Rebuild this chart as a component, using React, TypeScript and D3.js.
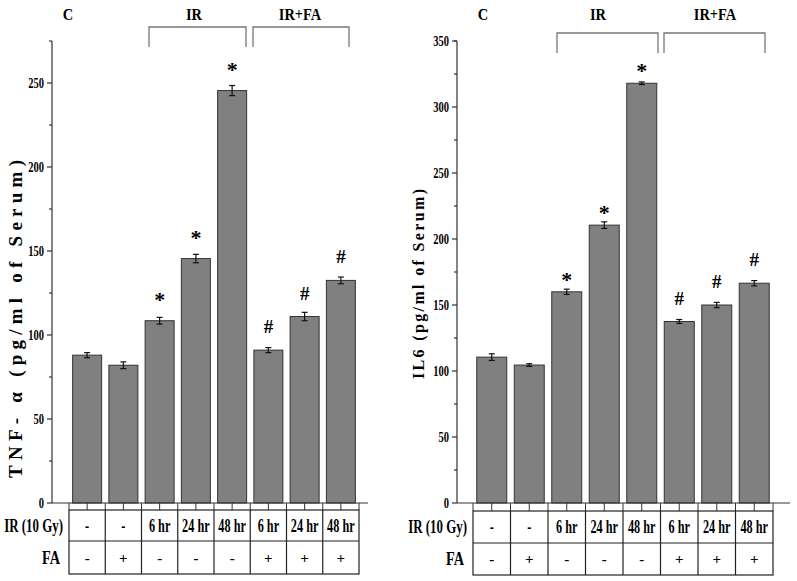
import React from "react";
import * as d3 from "d3";

const groups = ["C1", "C2", "IR6", "IR24", "IR48", "FA6", "FA24", "FA48"];
const irRow = ["-", "-", "6 hr", "24 hr", "48 hr", "6 hr", "24 hr", "48 hr"];
const faRow = ["-", "+", "-", "-", "-", "+", "+", "+"];
const tnfValues = [88, 82, 108.5, 145.5, 245.5, 91, 111, 132.5];
const tnfErrors = [1.5, 2, 2, 2.5, 3, 1.5, 2.5, 2];
const tnfMarks = ["", "", "*", "*", "*", "#", "#", "#"];
const il6Values = [110.5, 104.5, 160, 210.5, 318, 137.5, 150, 166.5];
const il6Errors = [2.5, 1, 2, 2.5, 1, 1.5, 2, 2];
const il6Marks = ["", "", "*", "*", "*", "#", "#", "#"];
const tnfTicks = [0, 50, 100, 150, 200, 250];
const il6Ticks = [0, 50, 100, 150, 200, 250, 300, 350];

type PanelProps = {
  values: number[];
  errors: number[];
  marks: string[];
  ticks: number[];
  yMax: number;
  axisTop: number;
  axisX: number;
  axisEnd: number;
  bandStart: number;
  bandEnd: number;
  tableTop: number;
  tableMid: number;
  tableBottom: number;
  yLabel: string;
  labelX: number;
  labelY: number;
  labelLen: number;
  labelSize: number;
  cX: number;
  irX: number;
  faX: number;
  br1: [number, number];
  br2: [number, number];
  brTop: number;
  brBottom: number;
  starGap: number;
  hashGap: number;
};

const serif = "Liberation Serif, Times New Roman, serif";

function CText(props: { x: number; y: number; size: number; sx: number; anchor: string; children: React.ReactNode }) {
  return (
    <text
      transform={`translate(${props.x},${props.y}) scale(${props.sx},1)`}
      textAnchor={props.anchor}
      fontFamily={serif}
      fontWeight="bold"
      fontSize={props.size}
    >
      {props.children}
    </text>
  );
}

function Panel(p: PanelProps) {
  const zeroY = 503;
  const y = d3.scaleLinear().domain([0, p.yMax]).range([zeroY, p.axisTop]);
  const x = d3.scaleBand<string>().domain(groups).range([p.bandStart, p.bandEnd]).paddingInner(0.2).paddingOuter(0.1);
  const xb = d3.scaleBand<string>().domain(groups).range([p.bandStart, p.bandEnd]);
  const minor = d3.range(25, p.yMax, 50);
  const rowLabelX = xb(groups[0])! - 6;
  const r1 = (p.tableTop + p.tableMid) / 2;
  const r2 = (p.tableMid + p.tableBottom) / 2;
  return (
    <g>
      <CText x={p.cX} y={20} size={17} sx={0.85} anchor="middle">C</CText>
      <CText x={p.irX} y={20} size={17} sx={0.85} anchor="middle">IR</CText>
      <CText x={p.faX} y={20} size={17} sx={0.85} anchor="middle">IR+FA</CText>
      {[p.br1, p.br2].map((b, i) => (
        <path key={i} d={`M${b[0]},${p.brBottom}V${p.brTop}H${b[1]}V${p.brBottom}`} fill="none" stroke="#777" strokeWidth={1.3} />
      ))}
      <line x1={p.axisX} x2={p.axisX} y1={p.axisTop} y2={zeroY} stroke="#333" strokeWidth={1.2} />
      {p.ticks.map((t) => (
        <g key={t}>
          <line x1={p.axisX - 5} x2={p.axisX} y1={y(t)} y2={y(t)} stroke="#333" strokeWidth={1.2} />
          <CText x={p.axisX - 8} y={y(t) + 5} size={15} sx={0.7} anchor="end">{t}</CText>
        </g>
      ))}
      {minor.map((t) => (
        <line key={t} x1={p.axisX - 3} x2={p.axisX} y1={y(t)} y2={y(t)} stroke="#333" strokeWidth={1.2} />
      ))}
      <line x1={p.axisX - 3} x2={p.axisX} y1={p.axisTop} y2={p.axisTop} stroke="#333" strokeWidth={1.2} />
      <text transform={`translate(${p.labelX},${p.labelY}) rotate(-90)`} textAnchor="middle" fontFamily={serif} fontWeight="bold" fontSize={p.labelSize} textLength={p.labelLen} lengthAdjust="spacing">{p.yLabel}</text>
      {groups.map((g, i) => {
        const bx = x(g)!;
        const cx = bx + x.bandwidth() / 2;
        const top = y(p.values[i]);
        const hi = y(p.values[i] + p.errors[i]);
        const lo = y(p.values[i] - p.errors[i]);
        const m = p.marks[i];
        return (
          <g key={g}>
            <rect x={bx} y={top} width={x.bandwidth()} height={zeroY - top} fill="#808080" stroke="#333" strokeWidth={1} />
            <line x1={cx} x2={cx} y1={hi} y2={lo} stroke="#111" strokeWidth={1.2} />
            <line x1={cx - 3} x2={cx + 3} y1={hi} y2={hi} stroke="#111" strokeWidth={1.2} />
            <line x1={cx - 3} x2={cx + 3} y1={lo} y2={lo} stroke="#111" strokeWidth={1.2} />
            {m === "*" && (
              <text x={cx} y={top - p.starGap + 12} textAnchor="middle" fontFamily={serif} fontWeight="bold" fontSize={22}>*</text>
            )}
            {m === "#" && (
              <text x={cx} y={top - p.hashGap} textAnchor="middle" fontFamily={serif} fontWeight="bold" fontSize={19}>#</text>
            )}
          </g>
        );
      })}
      <line x1={p.axisX} x2={p.axisEnd} y1={zeroY} y2={zeroY} stroke="#333" strokeWidth={1.2} />
      {groups.map((g) => (
        <g key={g}>
          <line x1={xb(g)!} x2={xb(g)!} y1={zeroY} y2={p.tableTop} stroke="#333" strokeWidth={1} />
          <line x1={xb(g)! + xb.bandwidth() / 2} x2={xb(g)! + xb.bandwidth() / 2} y1={zeroY} y2={p.tableTop} stroke="#333" strokeWidth={1} />
        </g>
      ))}
      <line x1={p.bandEnd} x2={p.bandEnd} y1={zeroY} y2={p.tableTop} stroke="#333" strokeWidth={1} />
      <rect x={p.bandStart} y={p.tableTop} width={p.bandEnd - p.bandStart} height={p.tableBottom - p.tableTop} fill="none" stroke="#222" strokeWidth={1.2} />
      <line x1={p.bandStart} x2={p.bandEnd} y1={p.tableMid} y2={p.tableMid} stroke="#222" strokeWidth={1.2} />
      {groups.slice(1).map((g) => (
        <line key={g} x1={xb(g)!} x2={xb(g)!} y1={p.tableTop} y2={p.tableBottom} stroke="#222" strokeWidth={1.2} />
      ))}
      <CText x={rowLabelX} y={r1 + 6} size={19} sx={0.68} anchor="end">IR (10 Gy)</CText>
      <CText x={rowLabelX - 3} y={r2 + 6} size={19} sx={0.75} anchor="end">FA</CText>
      {groups.map((g, i) => {
        const cx = xb(g)! + xb.bandwidth() / 2;
        return (
          <g key={g}>
            <CText x={cx} y={r1 + 6} size={18} sx={0.68} anchor="middle">{irRow[i]}</CText>
            <CText x={cx} y={r2 + 5} size={15} sx={1} anchor="middle">{faRow[i]}</CText>
          </g>
        );
      })}
    </g>
  );
}

export default function App() {
  return (
    <svg width={797} height={581} style={{ position: "absolute", left: 0, top: 0, background: "#fff" }}>
      <rect width={797} height={581} fill="#fff" />
      <Panel
        values={tnfValues}
        errors={tnfErrors}
        marks={tnfMarks}
        ticks={tnfTicks}
        yMax={275}
        axisTop={41}
        axisX={52}
        axisEnd={368}
        bandStart={69}
        bandEnd={359}
        tableTop={510}
        tableMid={541}
        tableBottom={574}
        yLabel="TNF- α (pg/ml of Serum)"
        labelX={22}
        labelY={319}
        labelLen={318}
        labelSize={19}
        cX={68}
        irX={194}
        faX={300}
        br1={[149, 246]}
        br2={[253, 349]}
        brTop={27}
        brBottom={47}
        starGap={26}
        hashGap={17}
      />
      <Panel
        values={il6Values}
        errors={il6Errors}
        marks={il6Marks}
        ticks={il6Ticks}
        yMax={350}
        axisTop={41}
        axisX={457}
        axisEnd={790}
        bandStart={473}
        bandEnd={773}
        tableTop={511}
        tableMid={543}
        tableBottom={575}
        yLabel="IL6 (pg/ml of Serum)"
        labelX={424}
        labelY={284}
        labelLen={190}
        labelSize={16}
        cX={483}
        irX={598}
        faX={715}
        br1={[557, 658]}
        br2={[664, 765]}
        brTop={33}
        brBottom={53}
        starGap={17}
        hashGap={17}
      />
    </svg>
  );
}
